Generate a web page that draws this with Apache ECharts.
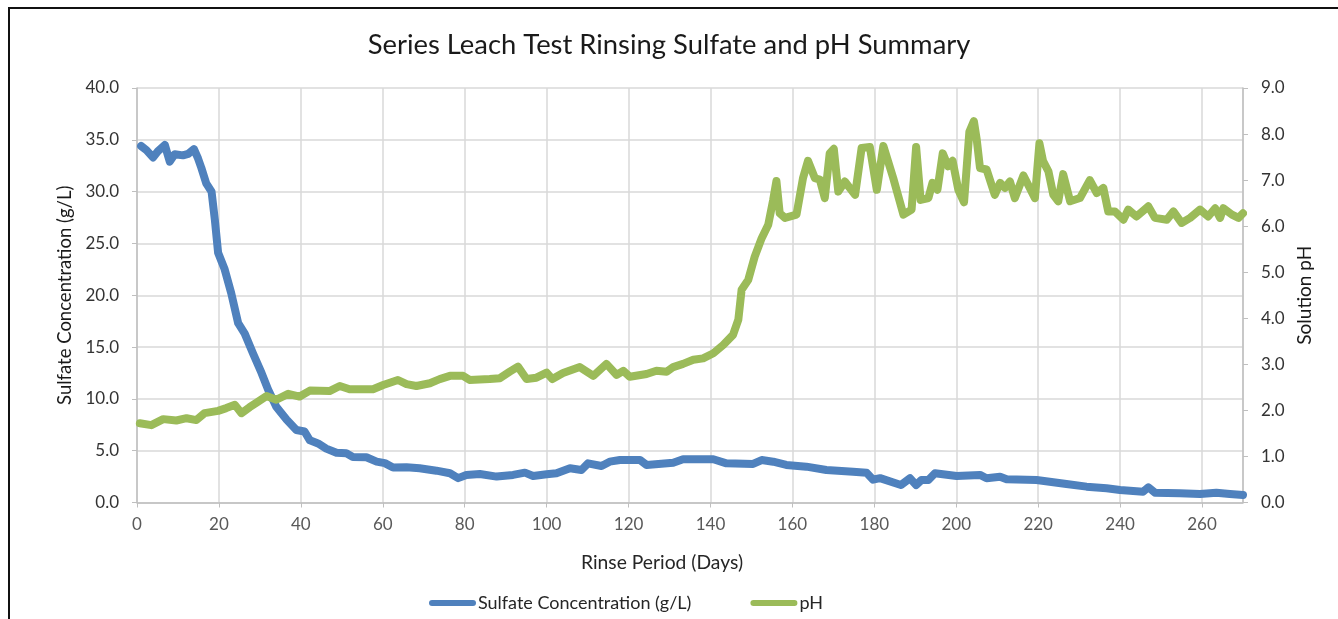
<!DOCTYPE html>
<html>
<head>
<meta charset="utf-8">
<script src="https://cdn.jsdelivr.net/npm/echarts@6/dist/echarts.min.js"></script>
<style>
  html, body { margin: 0; padding: 0; background: #fff; overflow: hidden; width: 1338px; height: 619px; }
  #frame { position: absolute; left: 8px; top: 7px; width: 1330px; height: 612px; border-left: 2px solid #111; border-top: 2px solid #111; box-sizing: border-box; }
  #chart { position: absolute; left: 0; top: 0; width: 1338px; height: 619px; }
</style>
</head>
<body>
<div id="frame"></div>
<div id="chart"></div>
<script>
const titleText = 'Series Leach Test Rinsing Sulfate and pH Summary';
const seriesNames = ['Sulfate Concentration (g/L)', 'pH'];

const sulfateDays = [1, 2.3, 3.9, 5.1, 6.8, 8, 9.2, 11.2, 12.5, 13.9, 14.9, 15.7, 16.9, 18.2, 19, 19.8, 21.4, 23, 24.7, 26.3, 28.3, 30.4, 32, 34, 36.5, 38.9, 40.9, 42.2, 44.2, 46.2, 48.7, 51.1, 52.7, 56, 58.5, 60.5, 62.5, 65.8, 69, 73.1, 76.4, 78.4, 80.4, 83.7, 87.8, 91.8, 94.7, 96.7, 100, 102.4, 105.7, 108.5, 110.1, 113.4, 115.4, 117.9, 122.8, 124.4, 130.9, 133.3, 140.7, 143.9, 150.4, 152.5, 155.3, 158.5, 163.4, 168.3, 174.8, 178.1, 179.7, 181.4, 186.5, 188.7, 190.2, 191.5, 193.2, 194.8, 200.1, 205.8, 207.4, 210.7, 212.3, 219.6, 226.9, 231.8, 236.7, 240, 245.6, 246.9, 248.5, 254.6, 259.5, 263.5, 266.8, 270];
const sulfateVals = [34.4, 34.0, 33.3, 33.9, 34.5, 32.9, 33.6, 33.5, 33.65, 34.1, 33.2, 32.3, 30.8, 30.0, 27.3, 24.1, 22.5, 20.2, 17.3, 16.3, 14.4, 12.5, 10.9, 9.25, 8.0, 7.0, 6.85, 6.0, 5.7, 5.2, 4.8, 4.75, 4.4, 4.37, 3.95, 3.8, 3.37, 3.4, 3.3, 3.07, 2.82, 2.35, 2.66, 2.75, 2.5, 2.66, 2.88, 2.56, 2.72, 2.82, 3.3, 3.14, 3.78, 3.52, 3.94, 4.1, 4.1, 3.62, 3.84, 4.17, 4.17, 3.78, 3.72, 4.1, 3.94, 3.62, 3.46, 3.14, 2.97, 2.88, 2.2, 2.35, 1.69, 2.34, 1.69, 2.17, 2.17, 2.82, 2.55, 2.66, 2.34, 2.49, 2.24, 2.17, 1.79, 1.53, 1.37, 1.21, 1.04, 1.47, 0.95, 0.89, 0.82, 0.95, 0.82, 0.72];

const phDays = [0.7, 3.5, 6.4, 9.6, 12.1, 14.5, 16.5, 19.8, 21.8, 23.9, 25.5, 27.5, 29.2, 31.6, 34, 36.9, 39.7, 42.2, 47, 49.5, 51.9, 57.6, 60.1, 63.7, 65.8, 68.2, 71.5, 73.9, 76.4, 79.6, 81.2, 86.1, 88.6, 91, 93, 95.1, 97.5, 100, 101.4, 104, 108.1, 111.4, 114.6, 117.1, 118.7, 120.3, 124.4, 126.8, 129.3, 130.9, 133.3, 135.8, 138.2, 140.7, 143.1, 145.5, 146.8, 147.6, 149.2, 150.8, 152.5, 154.1, 155.3, 156.1, 156.9, 158.2, 161, 162.6, 163.8, 165.5, 166.7, 167.9, 169.1, 170.1, 171.2, 172.8, 175.3, 176.9, 178.9, 180.6, 182.2, 184.6, 187.1, 189.1, 190.2, 191.3, 193.2, 194.2, 195.4, 196.7, 198, 199.1, 200.5, 201.9, 203.2, 204.3, 205, 205.8, 207.4, 209.4, 210.7, 211.9, 213.1, 214.3, 216.4, 219.2, 220.3, 221.2, 222.5, 223.7, 224.9, 226.1, 227.8, 230.2, 232.6, 234.3, 235.9, 237.1, 238.7, 240.8, 242, 244, 246.9, 248.5, 251.4, 253, 255, 257.1, 259.5, 261.5, 263.2, 264.4, 265.2, 267.3, 268.9, 270];
const phVals = [1.72, 1.68, 1.81, 1.78, 1.83, 1.79, 1.94, 1.99, 2.05, 2.12, 1.94, 2.07, 2.17, 2.31, 2.23, 2.36, 2.3, 2.43, 2.42, 2.53, 2.46, 2.46, 2.55, 2.66, 2.57, 2.53, 2.59, 2.68, 2.75, 2.75, 2.66, 2.68, 2.7, 2.84, 2.95, 2.68, 2.71, 2.82, 2.68, 2.81, 2.94, 2.75, 3.01, 2.77, 2.86, 2.73, 2.79, 2.86, 2.84, 2.94, 3.01, 3.1, 3.13, 3.24, 3.42, 3.64, 3.97, 4.62, 4.83, 5.34, 5.74, 6.03, 6.57, 6.98, 6.28, 6.18, 6.25, 7.05, 7.42, 7.04, 7.01, 6.61, 7.58, 7.68, 6.75, 6.97, 6.68, 7.7, 7.72, 6.79, 7.74, 7.05, 6.25, 6.36, 7.72, 6.57, 6.61, 6.94, 6.79, 7.58, 7.3, 7.42, 6.79, 6.52, 8.05, 8.28, 7.88, 7.26, 7.23, 6.68, 6.94, 6.83, 6.97, 6.61, 7.1, 6.61, 7.8, 7.41, 7.19, 6.68, 6.54, 7.13, 6.54, 6.61, 7.0, 6.72, 6.83, 6.32, 6.32, 6.14, 6.36, 6.21, 6.43, 6.18, 6.14, 6.32, 6.07, 6.18, 6.36, 6.21, 6.39, 6.18, 6.39, 6.25, 6.18, 6.28];

const xTicks = { min: 0, max: 270, interval: 20 };
const leftTicks = { min: 0, max: 40, interval: 5 };
const rightTicks = { min: 0, max: 9, interval: 1 };

const zip = (xs, ys) => xs.map((x, i) => [x, ys[i]]);

const FONT = 'Lato, "Open Sans", sans-serif';
const chart = echarts.init(document.getElementById('chart'), null, { renderer: 'canvas' });
const capsule = 'path://M3,0 L44,0 A3,3 0 0 1 44,6 L3,6 A3,3 0 0 1 3,0 Z';

chart.setOption({
  backgroundColor: 'transparent',
  animation: false,
  textStyle: { fontFamily: FONT },
  title: {
    text: titleText,
    left: 'center',
    top: 27,
    textStyle: { fontFamily: FONT, fontSize: 27.4, fontWeight: 'normal', color: '#1a1a1a' },
    padding: [5, 5, 5, 14]
  },
  grid: { left: 137, right: 95, top: 88, bottom: 116.5, containLabel: false },
  legend: {
    left: 424,
    top: 589,
    itemWidth: 47,
    itemHeight: 6,
    itemGap: 59,
    data: [
      { name: seriesNames[0], icon: capsule },
      { name: seriesNames[1], icon: capsule }
    ],
    textStyle: { fontFamily: FONT, fontSize: 18, color: '#262626', padding: [0, 0, 0, -3] }
  },
  xAxis: {
    type: 'value',
    min: xTicks.min, max: xTicks.max, interval: xTicks.interval,
    name: 'Rinse Period (Days)',
    nameLocation: 'middle',
    nameGap: 51,
    nameTextStyle: { fontFamily: FONT, fontSize: 19.3, color: '#262626', padding: [0, 56, 0, 0] },
    axisLine: { show: true, lineStyle: { color: '#BFBFBF', width: 1.5 } },
    axisTick: { show: true, inside: false, length: 5, lineStyle: { color: '#BFBFBF' } },
    axisLabel: { margin: 14, fontSize: 17, color: '#595959', showMaxLabel: false, fontFamily: FONT },
    splitLine: { show: true, lineStyle: { color: '#D9D9D9', width: 1.5 } }
  },
  yAxis: [
    {
      type: 'value', position: 'left',
      min: leftTicks.min, max: leftTicks.max, interval: leftTicks.interval,
      name: 'Sulfate Concentration (g/L)',
      nameLocation: 'middle', nameRotate: 90, nameGap: 60,
      nameTextStyle: { fontFamily: FONT, fontSize: 18.5, color: '#1a1a1a' },
      axisLine: { show: true, lineStyle: { color: '#BFBFBF', width: 1.5 } },
      axisTick: { show: true, inside: false, length: 5, lineStyle: { color: '#BFBFBF' } },
      axisLabel: { margin: 18, fontSize: 17, color: '#333333', fontFamily: FONT, formatter: v => v.toFixed(1) },
      splitLine: { show: true, lineStyle: { color: '#D9D9D9', width: 1.5 } }
    },
    {
      type: 'value', position: 'right',
      min: rightTicks.min, max: rightTicks.max, interval: rightTicks.interval,
      name: 'Solution pH',
      nameLocation: 'middle', nameRotate: 90, nameGap: 52,
      nameTextStyle: { fontFamily: FONT, fontSize: 19, color: '#1a1a1a' },
      axisLine: { show: true, lineStyle: { color: '#BFBFBF', width: 1.5 } },
      axisTick: { show: true, inside: false, length: 5, lineStyle: { color: '#BFBFBF' } },
      axisLabel: { margin: 18, fontSize: 17, color: '#333333', fontFamily: FONT, formatter: v => v.toFixed(1) },
      splitLine: { show: false }
    }
  ],
  series: [
    {
      name: seriesNames[0], type: 'line', yAxisIndex: 0,
      data: zip(sulfateDays, sulfateVals),
      showSymbol: false, symbol: 'none', smooth: false,
      color: '#4F81BD',
      lineStyle: { color: '#4F81BD', width: 8, cap: 'round', join: 'round' }
    },
    {
      name: seriesNames[1], type: 'line', yAxisIndex: 1,
      data: zip(phDays, phVals),
      showSymbol: false, symbol: 'none', smooth: false,
      color: '#9BBB59',
      lineStyle: { color: '#9BBB59', width: 8, cap: 'round', join: 'round' }
    }
  ]
});
</script>
</body>
</html>
